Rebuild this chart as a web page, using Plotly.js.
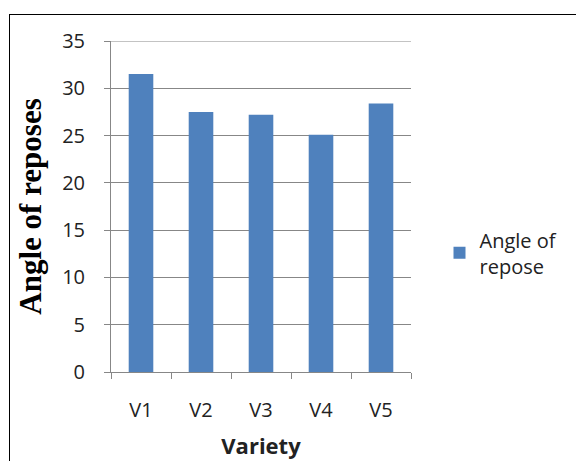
<!DOCTYPE html>
<html>
<head>
<meta charset="utf-8">
<script src="https://cdn.plot.ly/plotly-3.0.1.min.js"></script>
<style>
  html, body { margin: 0; padding: 0; background: #fff; }
  #frame { position: absolute; left: 9px; top: 14px; width: 600px; height: 500px;
           border-left: 1px solid #000; border-top: 1px solid #000; }
  #chart { position: absolute; left: 0; top: 0; width: 576px; height: 461px; }
</style>
</head>
<body>
<div id="frame"></div>
<div id="chart"></div>
<script>
// Angle of repose measured for each variety
const varieties = ["V1", "V2", "V3", "V4", "V5"];
const angleOfRepose = [31.5, 27.5, 27.2, 25.1, 28.4];
const yTicks = [0, 5, 10, 15, 20, 25, 30, 35];
const yMax = 35;

const barColor = "#4F81BD";
const gridColor = "#878787";
const sansFamily = "Open Sans, Noto Sans, sans-serif";
const labelFont = { family: sansFamily, size: 20, color: "#222" };

const trace = {
  type: "bar",
  x: varieties,
  y: angleOfRepose,
  name: "Angle of<br>repose",
  marker: { color: barColor },
  width: 0.41,
  showlegend: true
};

const layout = {
  width: 576,
  height: 461,
  margin: { l: 111, r: 165, t: 41, b: 89 },
  paper_bgcolor: "rgba(0,0,0,0)",
  plot_bgcolor: "rgba(0,0,0,0)",
  showlegend: true,
  legend: {
    x: 1.095, xanchor: "left",
    y: 0.36, yanchor: "middle",
    font: labelFont,
    itemwidth: 30,
    bgcolor: "rgba(0,0,0,0)"
  },
  // gridline along the top of the value range
  shapes: [{
    type: "line", xref: "paper", x0: 0, x1: 1, yref: "y", y0: yMax, y1: yMax,
    line: { color: gridColor, width: 1 }, layer: "below"
  }],
  xaxis: {
    type: "category",
    tickson: "boundaries",
    ticks: "outside",
    ticklen: 6,
    tickcolor: gridColor,
    showline: true,
    linecolor: gridColor,
    linewidth: 1,
    showgrid: false,
    tickfont: labelFont,
    ticklabelstandoff: 20,
    title: {
      text: "Variety",
      font: { family: sansFamily, size: 22, color: "#222", weight: "bold" },
      standoff: 16
    }
  },
  yaxis: {
    range: [0, yMax],
    tickvals: yTicks,
    ticks: "outside",
    ticklen: 6,
    tickcolor: gridColor,
    showline: true,
    linecolor: gridColor,
    linewidth: 1,
    showgrid: true,
    gridcolor: gridColor,
    gridwidth: 1,
    zeroline: false,
    tickfont: labelFont,
    ticklabelstandoff: 15,
    title: {
      text: "Angle of reposes",
      font: { family: "Liberation Serif, Times New Roman, serif", size: 31, color: "#000", weight: "bold" },
      standoff: 11
    }
  }
};

Plotly.newPlot("chart", [trace], layout, { displayModeBar: false, staticPlot: true });
</script>
</body>
</html>
